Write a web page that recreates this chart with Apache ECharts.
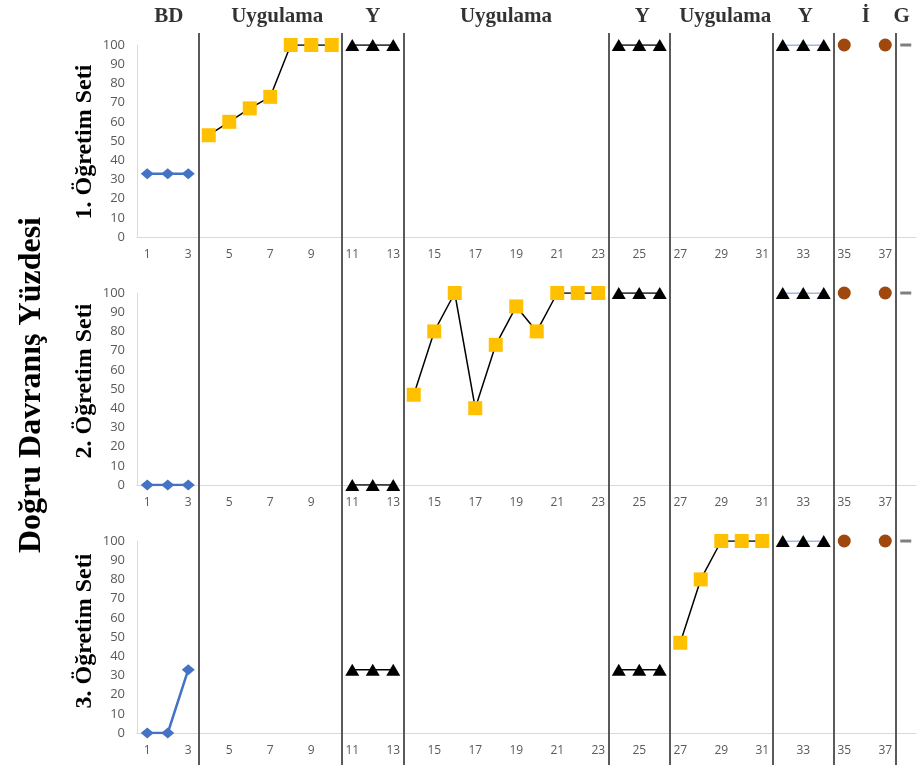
<!DOCTYPE html>
<html>
<head>
<meta charset="utf-8">
<script src="https://cdn.jsdelivr.net/npm/echarts@6/dist/echarts.min.js"></script>
<style>html,body{margin:0;padding:0;background:#fff;}#c{width:922px;height:765px;}</style>
</head>
<body>
<div id="c"></div>
<script>
// ---------- DATA ----------
const sessions = ['1','2','3','4','5','6','7','8','9','10','11','12','13','14','15','16','17','18','19','20',
  '21','22','23','24','25','26','27','28','29','30','31','32','33','34','35','36','37','38'];
const yTicks = [0,10,20,30,40,50,60,70,80,90,100];
const phaseNames = ['BD','Uygulama','Y','Uygulama','Y','Uygulama','Y','İ','G'];
const phaseEdges = [0.5, 3.5, 10.5, 13.5, 23.5, 26.5, 31.5, 34.5, 37.5, 38.5];
const panelNames = ['1. Öğretim Seti','2. Öğretim Seti','3. Öğretim Seti'];

// phase start sessions
const startBD = 1, startY1 = 11, startY2 = 24, startY3 = 32, startI = 35, startG = 38;
const startTr = [4, 14, 27];

// Set 1
const set1BD = [33, 33, 33];
const set1Tr = [53, 60, 67, 73, 100, 100, 100];
const set1Y1 = [100, 100, 100];
const set1Y2 = [100, 100, 100];
const set1Y3 = [100, 100, 100];
const set1I  = [100, null, 100];
const set1G  = [100];
// Set 2
const set2BD = [0, 0, 0];
const set2Tr = [47, 80, 100, 40, 73, 93, 80, 100, 100, 100];
const set2Y1 = [0, 0, 0];
const set2Y2 = [100, 100, 100];
const set2Y3 = [100, 100, 100];
const set2I  = [100, null, 100];
const set2G  = [100];
// Set 3
const set3BD = [0, 0, 33];
const set3Tr = [47, 80, 100, 100, 100];
const set3Y1 = [33, 33, 33];
const set3Y2 = [33, 33, 33];
const set3Y3 = [100, 100, 100];
const set3I  = [100, null, 100];
const set3G  = [100];

const sets = [
  {bd:set1BD, tr:set1Tr, y1:set1Y1, y2:set1Y2, y3:set1Y3, i:set1I, g:set1G},
  {bd:set2BD, tr:set2Tr, y1:set2Y1, y2:set2Y2, y3:set2Y3, i:set2I, g:set2G},
  {bd:set3BD, tr:set3Tr, y1:set3Y1, y2:set3Y2, y3:set3Y3, i:set3I, g:set3G}
];

// ---------- LAYOUT / STYLE ----------
const gridLeft = 137, gridWidth = 779;
const gridTops = [45, 293, 541];
const gridH = 192;
const labelOffsets = [1, 7, 0, 0, 3, 4, 2, 1, -4];
const axisGray = '#d9d9d9', textGray = '#595959';

function seq(start, vals) {
  const out = [];
  vals.forEach((v, k) => { if (v !== null) out.push([sessions[start - 1 + k], v]); });
  return out;
}

const grids = [], xAxes = [], yAxes = [], series = [];
sets.forEach((s, p) => {
  grids.push({left: gridLeft, width: gridWidth, top: gridTops[p], height: gridH});
  xAxes.push({
    type: 'category', gridIndex: p, data: sessions, boundaryGap: true,
    axisLine: {lineStyle: {color: axisGray, width: 1}},
    axisTick: {show: false},
    axisLabel: {interval: 1, color: textGray, fontFamily: 'Open Sans', fontSize: 12, margin: 12},
    splitLine: {show: false}
  });
  yAxes.push({
    type: 'value', gridIndex: p, min: yTicks[0], max: yTicks[yTicks.length - 1], interval: 10,
    axisLine: {show: true, lineStyle: {color: axisGray, width: 1}},
    axisTick: {show: false},
    axisLabel: {color: textGray, fontFamily: 'Open Sans', fontSize: 13, margin: 12},
    splitLine: {show: false}
  });
  const base = {xAxisIndex: p, yAxisIndex: p, showSymbol: true, showAllSymbol: true, z: 5};
  series.push(Object.assign({}, base, {
    type: 'line', data: seq(startBD, s.bd), symbol: 'diamond', symbolSize: [13, 11],
    itemStyle: {color: '#4472C4'}, lineStyle: {color: '#4472C4', width: 2.5}
  }));
  series.push(Object.assign({}, base, {
    type: 'line', data: seq(startTr[p], s.tr), symbol: 'rect', symbolSize: 14,
    itemStyle: {color: '#FFC000'}, lineStyle: {color: '#000', width: 1.5}
  }));
  [[startY1, s.y1, '#000', 1.5], [startY2, s.y2, '#000', 1.5], [startY3, s.y3, '#4472C4', 1]].forEach(([st, v, c, w]) => {
    series.push(Object.assign({}, base, {
      type: 'line', data: seq(st, v), symbol: 'triangle', symbolSize: [14, 12],
      itemStyle: {color: '#000'}, lineStyle: {color: c, width: w}
    }));
  });
  series.push(Object.assign({}, base, {
    type: 'scatter', data: seq(startI, s.i), symbol: 'circle', symbolSize: 13,
    itemStyle: {color: '#9E480E', opacity: 1}
  }));
  series.push(Object.assign({}, base, {
    type: 'scatter', data: seq(startG, s.g), symbol: 'rect', symbolSize: [11, 3],
    itemStyle: {color: '#7F7F7F', opacity: 1}
  }));
});

// overlay for phase lines and phase labels
grids.push({left: gridLeft, width: gridWidth, top: 33, bottom: 0});
xAxes.push({type: 'value', gridIndex: 3, min: phaseEdges[0], max: phaseEdges[phaseEdges.length - 1], show: false});
yAxes.push({type: 'value', gridIndex: 3, min: 0, max: 1, show: false});
const phaseLabelData = phaseNames.map((n, k) => ({
  value: [(phaseEdges[k] + phaseEdges[k + 1]) / 2, 1], name: n,
  label: {offset: [labelOffsets[k], 0]}
}));
series.push({
  type: 'scatter', xAxisIndex: 3, yAxisIndex: 3, symbolSize: 0, silent: true, z: 1,
  data: phaseLabelData,
  label: {show: true, position: 'top', distance: 6, formatter: '{b}', color: '#000',
    fontFamily: 'Liberation Serif', fontWeight: 'bold', fontSize: 21},
  markLine: {
    silent: true, symbol: 'none', animation: false,
    label: {show: false},
    lineStyle: {color: '#5a5a5a', width: 2, type: 'solid'},
    data: phaseEdges.slice(1, -1).map(x => ({xAxis: x}))
  }
});

const graphics = [{
  type: 'text', x: 32, y: 385, rotation: Math.PI / 2,
  style: {text: 'Doğru Davranış Yüzdesi', fill: '#000', font: 'bold 32px "Liberation Serif"',
    textAlign: 'center', textVerticalAlign: 'middle'}
}];
const panelCenters = [142, 381, 631];
panelNames.forEach((n, p) => graphics.push({
  type: 'text', x: 85, y: panelCenters[p], rotation: Math.PI / 2,
  style: {text: n, fill: '#000', font: 'bold 24px "Liberation Serif"',
    textAlign: 'center', textVerticalAlign: 'middle'}
}));

const chart = echarts.init(document.getElementById('c'), null, {renderer: 'canvas'});
chart.setOption({
  animation: false,
  backgroundColor: '#fff',
  grid: grids, xAxis: xAxes, yAxis: yAxes, series: series,
  graphic: graphics
});
</script>
</body>
</html>
